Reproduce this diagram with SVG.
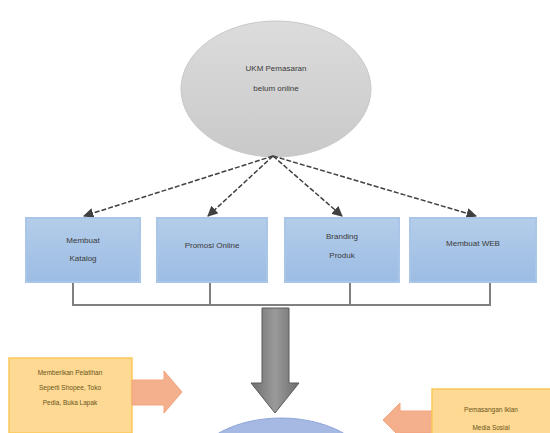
<svg xmlns="http://www.w3.org/2000/svg" width="550" height="433" viewBox="0 0 550 433">
<defs>
<linearGradient id="gEll" x1="0" y1="0" x2="0" y2="1"><stop offset="0" stop-color="#dcdcdc"/><stop offset="1" stop-color="#c9c9c9"/></linearGradient>
<linearGradient id="gBox" x1="0" y1="0" x2="0" y2="1"><stop offset="0" stop-color="#b4cdea"/><stop offset="1" stop-color="#9cbce3"/></linearGradient>
<linearGradient id="gArrow" x1="0" y1="0" x2="1" y2="0"><stop offset="0" stop-color="#6e6e6e"/><stop offset="0.5" stop-color="#9a9a9a"/><stop offset="1" stop-color="#6e6e6e"/></linearGradient>
<marker id="ah" viewBox="0 0 10 10" refX="9" refY="5" markerWidth="7" markerHeight="7" orient="auto-start-reverse"><path d="M0,0 L10,5 L0,10 z" fill="#404040"/></marker>
<style>
.t{font-family:"Liberation Sans",Arial,sans-serif;font-size:8px;fill:#3a3a3a;text-anchor:middle}
.ty{font-family:"Liberation Sans",Arial,sans-serif;font-size:6.5px;fill:#6b5420;text-anchor:middle}
.box{fill:url(#gBox);stroke:#a9c6e8;stroke-width:2}
.conn{stroke:#404040;stroke-width:1.5;fill:none;stroke-dasharray:5 2}
.line{stroke:#808080;stroke-width:2;fill:none}
.yel{fill:#fdd993;stroke:#fcc85a;stroke-width:1.5}
.oarr{fill:#f4b08c;stroke:#f3a37a;stroke-width:1}
</style>
</defs>
<g id="ellipse-ukm">
<ellipse cx="276" cy="89" rx="95" ry="68" fill="url(#gEll)" stroke="#c8c8c8" stroke-width="1"/>
<text class="t" x="276" y="71" font-size="9">UKM Pemasaran</text>
<text class="t" x="276" y="91" font-size="9">belum online</text>
</g>
<g id="connectors">
<path class="conn" d="M273,156 L84,216" marker-end="url(#ah)"/>
<path class="conn" d="M273,156 L208,216" marker-end="url(#ah)"/>
<path class="conn" d="M273,156 L342,216" marker-end="url(#ah)"/>
<path class="conn" d="M273,156 L476,216" marker-end="url(#ah)"/>
<path class="line" d="M73,283 V305 M210,283 V305 M350,283 V305 M490,283 V305 M72,305 H491"/>
</g>
<g id="box-katalog">
<rect class="box" x="26" y="218" width="114" height="64"/>
<text class="t" x="83" y="243">Membuat</text>
<text class="t" x="83" y="261">Katalog</text>
</g>
<g id="box-promosi">
<rect class="box" x="157" y="218" width="110" height="64"/>
<text class="t" x="212" y="248">Promosi Online</text>
</g>
<g id="box-branding">
<rect class="box" x="285" y="218" width="114" height="64"/>
<text class="t" x="342" y="239">Branding</text>
<text class="t" x="342" y="258">Produk</text>
</g>
<g id="box-web">
<rect class="box" x="410" y="218" width="126" height="64"/>
<text class="t" x="473" y="246">Membuat WEB</text>
</g>
<g id="ellipse-bottom">
<ellipse cx="281" cy="478" rx="94" ry="60" fill="#a6b9e3" stroke="#8fa6da" stroke-width="1"/>
</g>
<g id="big-arrow">
<path d="M262,308 H289 V383 H299 L275,413 L251,383 H262 Z" fill="url(#gArrow)" stroke="#5a5a5a" stroke-width="1"/>
</g>
<g id="box-left">
<rect class="yel" x="9" y="358" width="123" height="75"/>
<text class="ty" x="70" y="375">Memberikan Pelatihan</text>
<text class="ty" x="70" y="390">Seperti Shopee, Toko</text>
<text class="ty" x="70" y="405">Pedia, Buka Lapak</text>
</g>
<g id="arrow-left">
<path class="oarr" d="M132,380 H164 V371 L182,392 L164,413 V405 H132 Z"/>
</g>
<g id="arrow-right">
<path class="oarr" d="M432,411 H400 V403 L383,420 L400,437 V433 H432 Z"/>
</g>
<g id="box-right">
<rect class="yel" x="432" y="389" width="125" height="50"/>
<text class="ty" x="491" y="412" font-size="8">Pemasangan Iklan</text>
<text class="ty" x="491" y="430" font-size="8">Media Sosial</text>
</g>
</svg>
